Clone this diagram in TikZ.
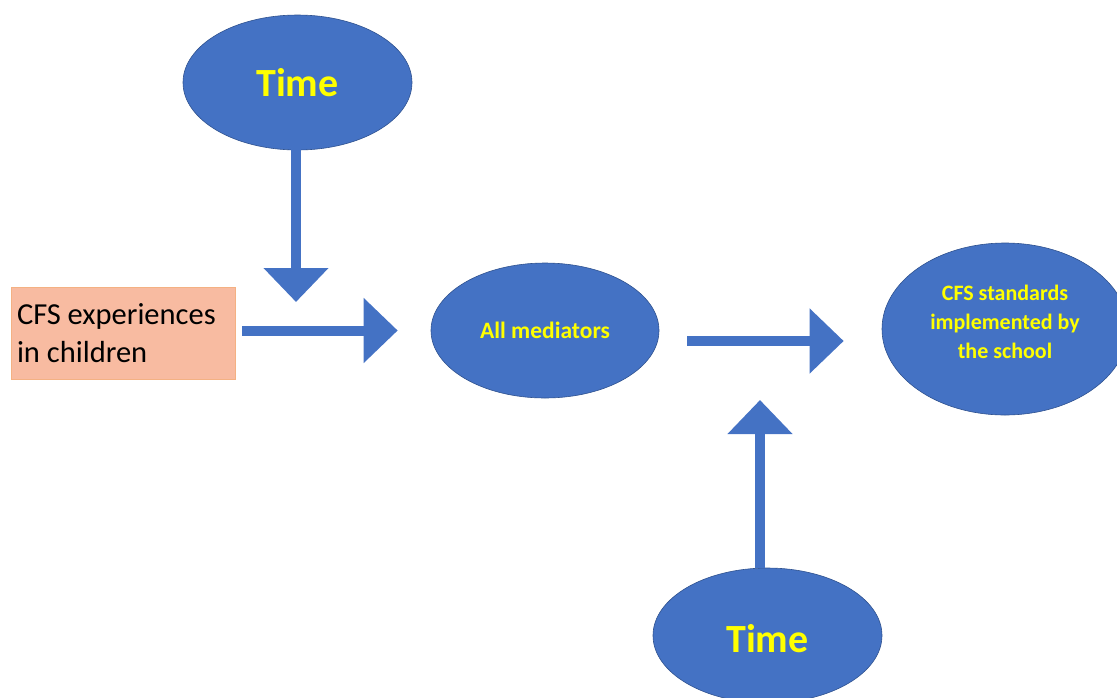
\documentclass[tikz,border=0pt]{standalone}
\usepackage{fontspec}
\setmainfont{Carlito}
\usetikzlibrary{arrows.meta,shapes.geometric}
\definecolor{boxblue}{HTML}{4472C4}
\definecolor{boxedge}{HTML}{2F528F}
\definecolor{salmon}{HTML}{F8BBA1}
\definecolor{salmonedge}{HTML}{F4B183}
\definecolor{txtyellow}{HTML}{FFFF00}
\begin{document}
\begin{tikzpicture}
  [x=1pt,y=-1pt,
   blob/.style={ellipse,fill=boxblue,draw=boxedge,line width=.6pt,text=txtyellow,font=\bfseries,align=center,inner sep=0pt},
   bigarrow/.style={boxblue,line width=10pt,-{Triangle[length=34pt,width=63pt]}}]
  \useasboundingbox (0,0) rectangle (1117,697);
  \clip (0,0) rectangle (1117,697);
  \node (time1)[blob,minimum width=229pt,minimum height=135pt,font=\bfseries\fontsize{40}{46}\selectfont] at (297.5,82.5) {Time};
  \node (exp)[rectangle,fill=salmon,draw=salmonedge,line width=.6pt,minimum width=224pt,minimum height=92pt,text width=212pt,inner sep=6pt,align=flush left,font=\fontsize{30.5}{38}\selectfont] at (123,333) {CFS experiences\\in children};
  \node (med)[blob,minimum width=228pt,minimum height=135pt,font=\bfseries\fontsize{23.5}{28}\selectfont] at (545,330.5) {All mediators};
  \node (school)[blob,minimum width=246pt,minimum height=172pt,text depth=15pt,font=\bfseries\fontsize{22}{29}\selectfont] at (1005,329) {CFS standards\\implemented by\\the school};
  \node (time2)[blob,minimum width=229pt,minimum height=135pt,text height=34pt,font=\bfseries\fontsize{40}{46}\selectfont] at (767.5,635.5) {Time};

  \coordinate (tip1) at (296,302);
  \coordinate (tip2) at (760,400);

  \draw[bigarrow,shorten <=-5pt] (time1.south -| tip1) -- (tip1);
  \draw[bigarrow,shorten <=7pt,shorten >=33pt] (exp.east |- med.west) -- (med.west);
  \draw[bigarrow,shorten <=28pt,shorten >=38pt] ([yshift=-10.5pt]med.east) -- ([yshift=-10.5pt]med.east -| school.west);
  \draw[bigarrow] (time2.north -| tip2) -- (tip2);

\end{tikzpicture}
\end{document}
